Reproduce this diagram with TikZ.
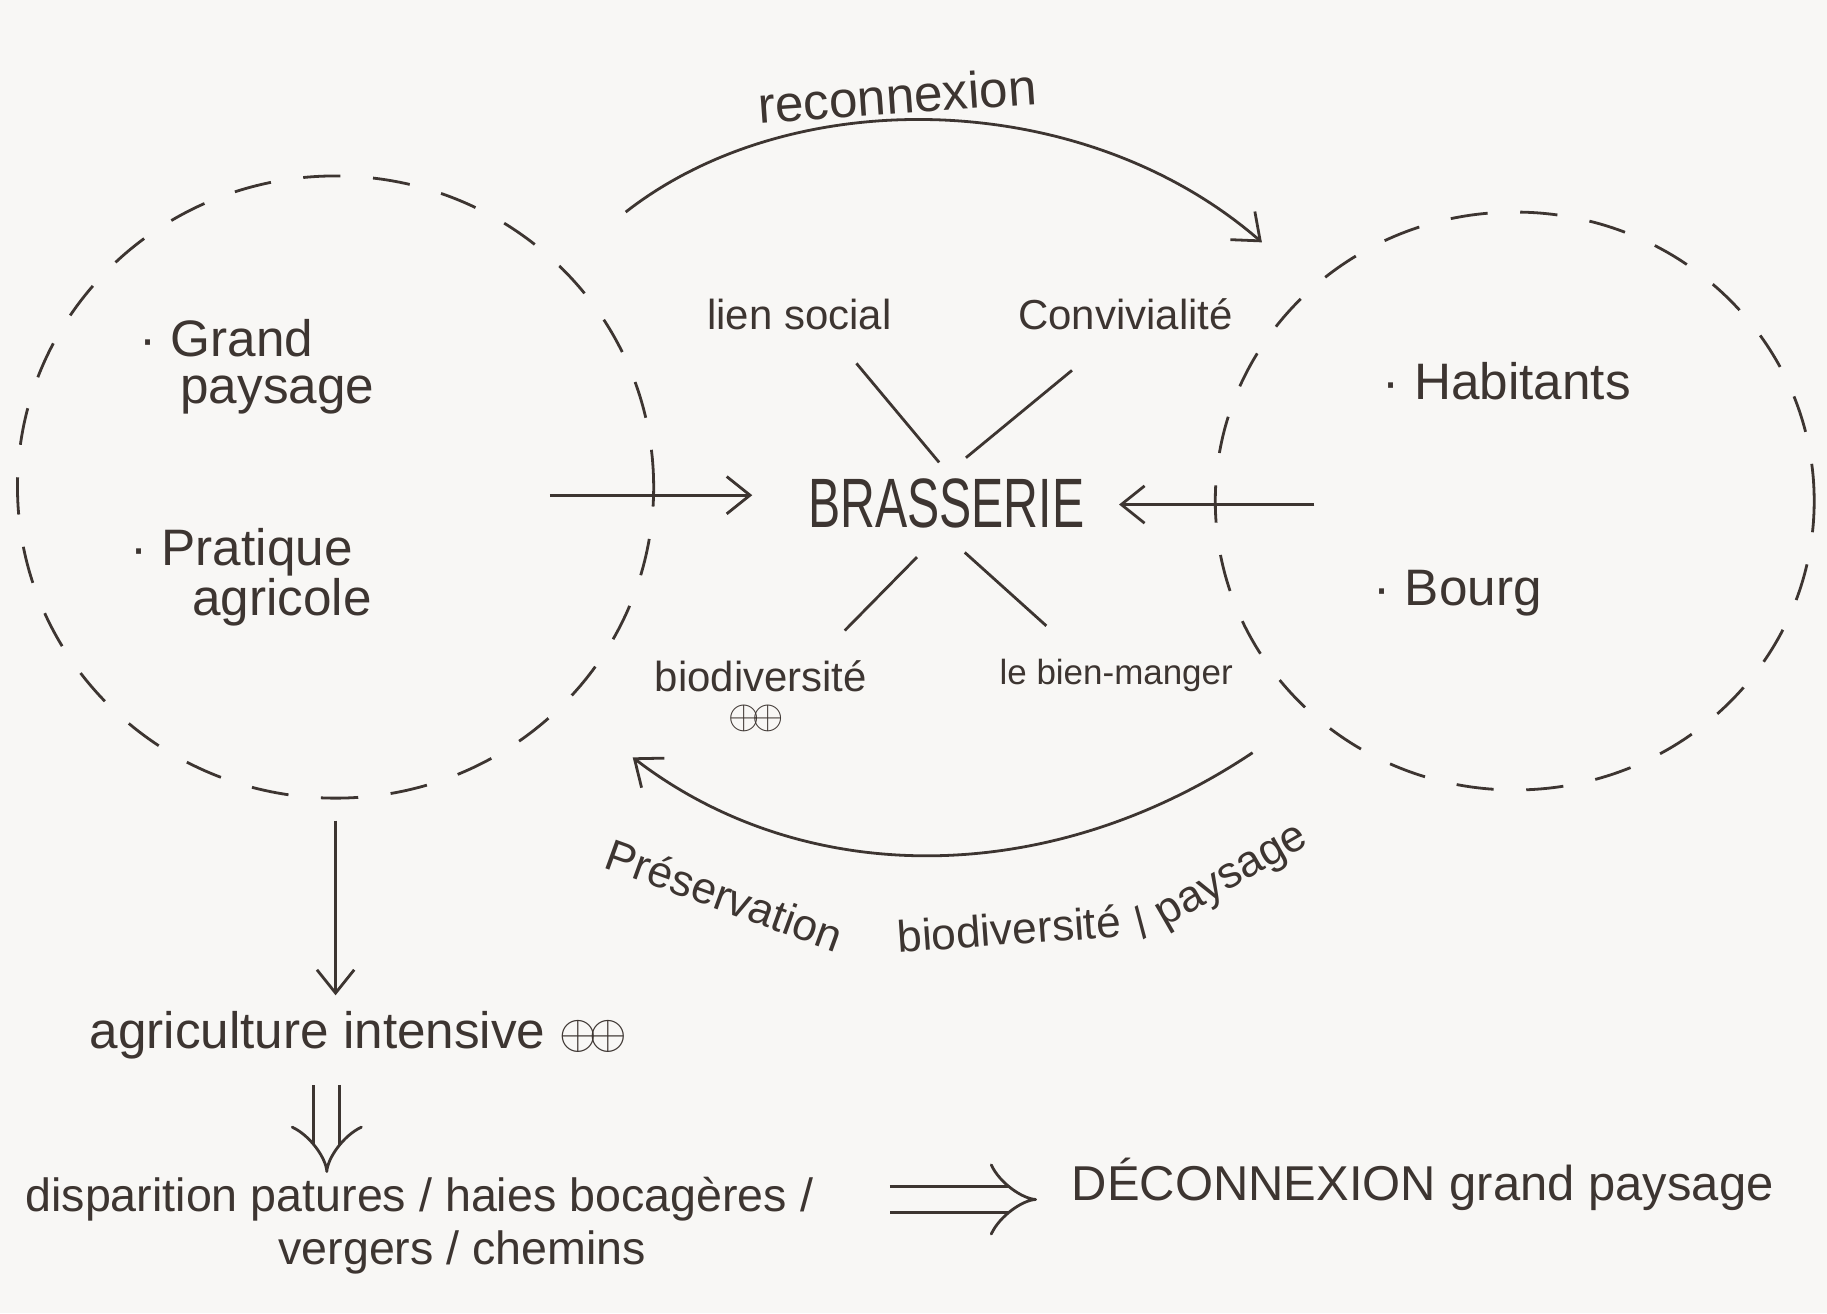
\documentclass[tikz,border=0pt]{standalone}
\usepackage{fontspec}
\setmainfont{Liberation Sans}
\usetikzlibrary{arrows.meta,shapes.geometric,calc}
\definecolor{ink}{HTML}{3D3531}
\definecolor{paper}{HTML}{F8F7F5}
\tikzset{
  hand/.style={text=ink, inner sep=0.75pt, font=\fontsize{18}{21}\selectfont},
  big/.style={hand, font=\fontsize{22}{26}\selectfont},
  low/.style={hand, font=\fontsize{20}{24}\selectfont},
  arc text/.style={hand, font=\fontsize{19}{22}\selectfont},
  zone/.style={ellipse, draw=ink, inner sep=0pt, line width=1.2pt, dash pattern=on 16pt off 14pt},
  pen/.style={draw=ink, line width=1.2pt},
  barb/.style={pen, -{Straight Barb[length=10pt, width=16pt, line width=1.2pt]}},
  dbl/.style={draw=ink, line width=1.2pt, double=paper, double distance=10pt, -{Implies}},
}
\begin{document}
\begin{tikzpicture}[x=0.5pt,y=-0.5pt]
\fill[paper] (0,0) rectangle (1568,1127);
\useasboundingbox (0,0) rectangle (1568,1127);

\node[zone, minimum width=273pt, minimum height=267pt] (zoneL) at (288,418) {};
\node[zone, minimum width=257pt, minimum height=248pt] (zoneR) at (1300,430) {};

\draw (118,306) node [anchor=base west][big] (grand) {· Grand};
\draw (153,346) node [anchor=base west][big] (paysage) {paysage};
\draw (110,485) node [anchor=base west][big] (pratique) {· Pratique};
\draw (163,528) node [anchor=base west][big] (agricole) {agricole};
\draw (1185,343) node [anchor=base west][big] (habitants) {· Habitants};
\draw (1177,520) node [anchor=base west][big] (bourg) {· Bourg};

\draw (812,432) node [hand, font=\fontsize{30}{30}\selectfont] (brass) {\scalebox{0.69}[1]{BRASSERIE}};
\draw (686,270) node [hand] (lien) {lien social};
\draw (966,270) node [hand] (convi) {Convivialité};
\draw (653,580) node [hand] (biodiv) {biodiversité};
\draw (649,617) node [hand, font=\fontsize{16}{18}\selectfont] (plusB) {$\oplus\!\oplus$};
\draw (958,580) node [hand, font=\fontsize{15}{18}\selectfont] (bienm) {le bien-manger};

\draw[pen] ($(brass.north)+(-77,-97)$) -- ($(brass.north)+(-6,-12)$);
\draw[pen] ($(brass.north)+(108,-91)$) -- ($(brass.north)+(17,-16)$);
\draw[pen] ($(brass.south)+(-25,23)$) -- ($(brass.south)+(-87,86)$);
\draw[pen] ($(brass.south)+(16,19)$) -- ($(brass.south)+(86,82)$);

\coordinate (fromL) at (472,425);
\coordinate (fromR) at (1128,433);
\draw[barb, shorten >=23pt] (fromL) -- (fromL -| brass.west);
\draw[barb, shorten >=14pt] (fromR) -- (fromR -| brass.east);

% reconnexion / preservation
\draw (770,82) node [big, rotate=4] (reco) {reconnexion};
\coordinate (recoA) at (537,182);
\coordinate (recoB) at (1083,208);
\draw[barb] (recoA) .. controls (680,70) and (930,75) .. (recoB);
\coordinate (presA) at (1075,646);
\coordinate (presB) at (543,650);
\draw[barb] (presA) .. controls (900,763) and (690,763) .. (presB);
\draw (622,768) node [arc text, rotate=-20] (pres1) {Préservation};
\draw (866,797) node [arc text, rotate=4] (pres2) {biodiversité};
\draw (1048,757) node [arc text, rotate=30] (pres3) {/ paysage};

\draw (75,900) node [anchor=base west][big] (agri) {agriculture intensive $\oplus\!\oplus$};
\draw (20,1040) node [anchor=base west][low] (disp) {disparition patures / haies bocagères /};
\draw (237,1085) node [anchor=base west][low] (vergers) {vergers / chemins};
\draw (918,1030) node [anchor=base west][hand, font=\fontsize{21}{25}\selectfont] (decon) {DÉCONNEXION grand paysage};

\draw[barb] ([yshift=-9pt]zoneL.south) -- ([yshift=6pt]zoneL.south |- agri.north);
\draw[dbl, shorten <=10pt, shorten >=1pt] ([xshift=-13.5pt]agri.south) -- ([xshift=-13.5pt]agri.south |- disp.north);
\draw[dbl, shorten <=32pt, shorten >=14pt] (disp.east) -- (disp.east -| decon.west);

\end{tikzpicture}
\end{document}
